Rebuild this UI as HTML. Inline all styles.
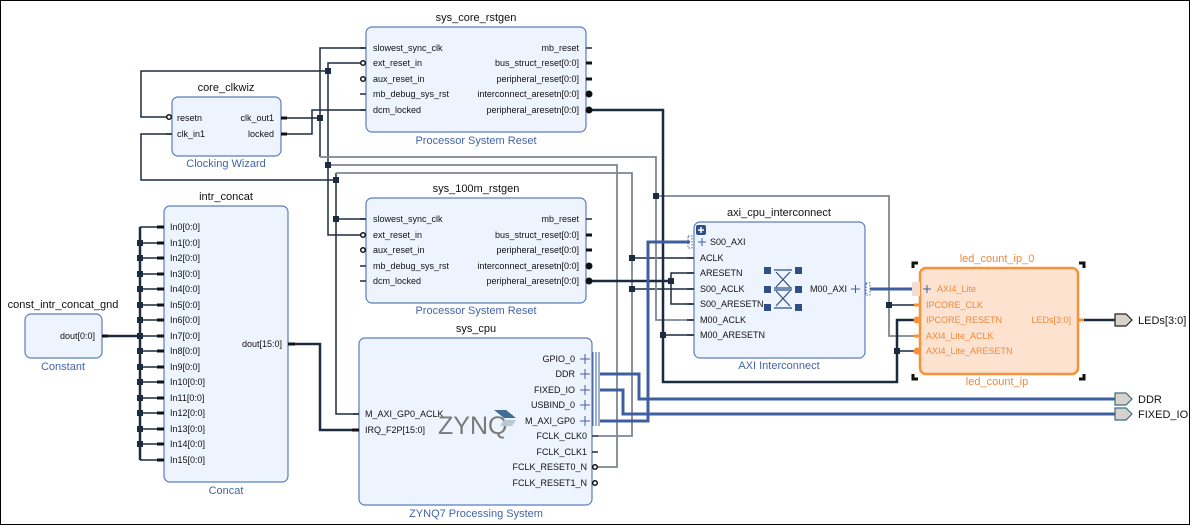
<!DOCTYPE html>
<html><head><meta charset="utf-8"><style>
html,body{margin:0;padding:0;background:#fff}
svg{display:block}
text{font-family:"Liberation Sans",sans-serif}
.p{font-size:9px;fill:#111}
.t{font-size:11px;fill:#111}
.l{font-size:11px;fill:#4464a8}
.o{font-size:9px;fill:#f0883a}
.ot{font-size:11px;fill:#f0883a}
.box{fill:#edf4fd;stroke:#5b7dbb;stroke-width:1.2}
.w{stroke:#1c2b40;stroke-width:1.5;fill:none}
.g{stroke:#7d8695;stroke-width:1.8;fill:none}
.b{stroke:#1c2b40;stroke-width:2.5;fill:none}
.bl{stroke:#3d5f9f;stroke-width:3;fill:none}
.pin{stroke:#1c2b40;stroke-width:1.5}
.pb{stroke:#111;stroke-width:3}
.j{fill:#1c2b40}
.bub{fill:#fff;stroke:#111;stroke-width:1.5}
</style></head><body>
<svg width="1191" height="526" viewBox="0 0 1191 526" xmlns="http://www.w3.org/2000/svg">
<rect x="0.5" y="0.5" width="1189" height="524" fill="#fff" stroke="#000" stroke-width="1"/>

<!-- ===== wires ===== -->
<!-- clkwiz resetn net -->
<polyline class="w" points="168,117 141,117 141,71 328,71"/>
<!-- ext_reset net x328 -->
<polyline class="w" points="366,63 328,63 328,235 366,235"/>
<polyline class="g" points="328,165 617,165 617,467 597,467"/>
<!-- clk_in1 net -->
<polyline class="w" points="172,134 141,134 141,180 336,180"/>
<polyline class="w" points="336,173 336,414 366,414"/>
<line class="w" x1="336" y1="219" x2="366" y2="219"/>
<polyline class="g" points="336,173 632,173 632,436 597,436"/>
<line class="w" x1="632" y1="258" x2="694" y2="258"/>
<line class="w" x1="632" y1="289" x2="694" y2="289"/>
<!-- slowest core / clk_out1 -->
<polyline class="w" points="366,48 320,48 320,157"/>
<line class="w" x1="281" y1="118" x2="320" y2="118"/>
<polyline class="g" points="320,157 656,157 656,320 694,320"/>
<polyline class="g" points="656,196 889,196 889,336 920,336"/>
<line class="w" x1="889" y1="305" x2="920" y2="305"/>
<!-- locked -->
<polyline class="w" points="281,134 312,134 312,110 366,110"/>
<!-- core peripheral_aresetn -->
<polyline class="b" points="590,110 663,110 663,382 897,382 897,320 920,320"/>
<line class="w" x1="663" y1="335" x2="694" y2="335"/>
<line class="w" x1="897" y1="351" x2="920" y2="351"/>
<!-- 100m peripheral_aresetn -->
<line class="b" x1="590" y1="281" x2="671" y2="281"/>
<polyline class="w" points="694,273 671,273 671,304 694,304"/>
<!-- concat -->
<line class="b" x1="104" y1="336" x2="140" y2="336"/>
<line class="b" x1="140" y1="227" x2="140" y2="460"/>
<polyline class="b" points="290,344 320,344 320,430 359,430"/>
<!-- blue buses -->
<polyline class="bl" points="600,421 648,421 648,242 690,242"/>
<polyline class="bl" points="600,374 639,374 639,399 1115,399"/>
<polyline class="bl" points="600,390 623,390 623,414 1115,414"/>
<line class="bl" x1="870" y1="289" x2="912" y2="289"/>
<line class="b" x1="1082" y1="320" x2="1115" y2="320"/>

<!-- junctions -->
<g class="j">
<rect x="325" y="68" width="6" height="6"/><rect x="317" y="115" width="6" height="6"/>
<rect x="333" y="177" width="6" height="6"/><rect x="325" y="162" width="6" height="6"/>
<rect x="333" y="216" width="6" height="6"/><rect x="653" y="193" width="6" height="6"/>
<rect x="629" y="255" width="6" height="6"/><rect x="629" y="286" width="6" height="6"/>
<rect x="660" y="332" width="6" height="6"/><rect x="668" y="278" width="6" height="6"/>
<rect x="886" y="302" width="6" height="6"/><rect x="894" y="348" width="6" height="6"/>
<rect x="137" y="333" width="6" height="6"/>
</g>

<!-- ===== core_clkwiz ===== -->
<text class="t" x="226" y="91" text-anchor="middle">core_clkwiz</text>
<rect class="box" x="172" y="97" width="109" height="59" rx="6"/>
<circle class="bub" cx="169" cy="117" r="2.3"/><line class="pin" x1="166" y1="134" x2="172" y2="134"/>
<line class="pb" x1="281" y1="118" x2="287" y2="118"/><line class="pb" x1="281" y1="134" x2="287" y2="134"/>
<text class="p" x="177" y="121">resetn</text><text class="p" x="177" y="137">clk_in1</text>
<text class="p" x="274" y="121" text-anchor="end">clk_out1</text><text class="p" x="274" y="137" text-anchor="end">locked</text>
<text class="l" x="226" y="167" text-anchor="middle">Clocking Wizard</text>

<!-- ===== sys_core_rstgen ===== -->
<text class="t" x="476" y="21" text-anchor="middle">sys_core_rstgen</text>
<rect class="box" x="366" y="27" width="220" height="105" rx="6"/>
<g>
<line class="pin" x1="360" y1="48" x2="366" y2="48"/><circle class="bub" cx="363" cy="63" r="2.3"/><circle class="bub" cx="363" cy="79" r="2.3"/>
<line class="pin" x1="360" y1="94" x2="366" y2="94"/><line class="pin" x1="360" y1="110" x2="366" y2="110"/>
<line class="pin" x1="586" y1="48" x2="592" y2="48"/><line class="pb" x1="586" y1="63" x2="592" y2="63"/><line class="pb" x1="586" y1="79" x2="592" y2="79"/>
<circle cx="589" cy="94" r="3.5" fill="#111"/><circle cx="589" cy="110" r="3.5" fill="#111"/>
</g>
<text class="p" x="373" y="51">slowest_sync_clk</text><text class="p" x="373" y="66">ext_reset_in</text><text class="p" x="373" y="82">aux_reset_in</text><text class="p" x="373" y="97">mb_debug_sys_rst</text><text class="p" x="373" y="113">dcm_locked</text>
<text class="p" x="579" y="51" text-anchor="end">mb_reset</text><text class="p" x="579" y="66" text-anchor="end">bus_struct_reset[0:0]</text><text class="p" x="579" y="82" text-anchor="end">peripheral_reset[0:0]</text><text class="p" x="579" y="97" text-anchor="end">interconnect_aresetn[0:0]</text><text class="p" x="579" y="113" text-anchor="end">peripheral_aresetn[0:0]</text>
<text class="l" x="476" y="144" text-anchor="middle">Processor System Reset</text>

<!-- ===== sys_100m_rstgen ===== -->
<text class="t" x="476" y="192" text-anchor="middle">sys_100m_rstgen</text>
<rect class="box" x="366" y="198" width="220" height="105" rx="6"/>
<g>
<line class="pin" x1="360" y1="219" x2="366" y2="219"/><circle class="bub" cx="363" cy="235" r="2.3"/><circle class="bub" cx="363" cy="250" r="2.3"/>
<line class="pin" x1="360" y1="266" x2="366" y2="266"/><line class="pin" x1="360" y1="281" x2="366" y2="281"/>
<line class="pin" x1="586" y1="219" x2="592" y2="219"/><line class="pb" x1="586" y1="235" x2="592" y2="235"/><line class="pb" x1="586" y1="250" x2="592" y2="250"/>
<circle cx="589" cy="266" r="3.5" fill="#111"/><circle cx="589" cy="281" r="3.5" fill="#111"/>
</g>
<text class="p" x="373" y="222">slowest_sync_clk</text><text class="p" x="373" y="238">ext_reset_in</text><text class="p" x="373" y="253">aux_reset_in</text><text class="p" x="373" y="269">mb_debug_sys_rst</text><text class="p" x="373" y="284">dcm_locked</text>
<text class="p" x="579" y="222" text-anchor="end">mb_reset</text><text class="p" x="579" y="238" text-anchor="end">bus_struct_reset[0:0]</text><text class="p" x="579" y="253" text-anchor="end">peripheral_reset[0:0]</text><text class="p" x="579" y="269" text-anchor="end">interconnect_aresetn[0:0]</text><text class="p" x="579" y="284" text-anchor="end">peripheral_aresetn[0:0]</text>
<text class="l" x="476" y="314" text-anchor="middle">Processor System Reset</text>

<!-- ===== Constant ===== -->
<text class="t" x="63" y="308" text-anchor="middle">const_intr_concat_gnd</text>
<rect class="box" x="25" y="314" width="77" height="44" rx="6"/>
<line class="pb" x1="102" y1="336" x2="108" y2="336"/>
<text class="p" x="95" y="339" text-anchor="end">dout[0:0]</text>
<text class="l" x="63" y="370" text-anchor="middle">Constant</text>

<!-- ===== Concat ===== -->
<text class="t" x="226" y="200" text-anchor="middle">intr_concat</text>
<rect class="box" x="164" y="206" width="124" height="276" rx="6"/>
<g class="w">
<line x1="140" y1="227" x2="164" y2="227"/><line x1="140" y1="243" x2="164" y2="243"/><line x1="140" y1="258" x2="164" y2="258"/><line x1="140" y1="274" x2="164" y2="274"/>
<line x1="140" y1="289" x2="164" y2="289"/><line x1="140" y1="305" x2="164" y2="305"/><line x1="140" y1="320" x2="164" y2="320"/><line x1="140" y1="336" x2="164" y2="336"/>
<line x1="140" y1="351" x2="164" y2="351"/><line x1="140" y1="367" x2="164" y2="367"/><line x1="140" y1="382" x2="164" y2="382"/><line x1="140" y1="398" x2="164" y2="398"/>
<line x1="140" y1="413" x2="164" y2="413"/><line x1="140" y1="429" x2="164" y2="429"/><line x1="140" y1="444" x2="164" y2="444"/><line x1="140" y1="460" x2="164" y2="460"/>
</g>
<g class="pb">
<line x1="157" y1="227" x2="164" y2="227"/><line x1="157" y1="243" x2="164" y2="243"/><line x1="157" y1="258" x2="164" y2="258"/><line x1="157" y1="274" x2="164" y2="274"/>
<line x1="157" y1="289" x2="164" y2="289"/><line x1="157" y1="305" x2="164" y2="305"/><line x1="157" y1="320" x2="164" y2="320"/><line x1="157" y1="336" x2="164" y2="336"/>
<line x1="157" y1="351" x2="164" y2="351"/><line x1="157" y1="367" x2="164" y2="367"/><line x1="157" y1="382" x2="164" y2="382"/><line x1="157" y1="398" x2="164" y2="398"/>
<line x1="157" y1="413" x2="164" y2="413"/><line x1="157" y1="429" x2="164" y2="429"/><line x1="157" y1="444" x2="164" y2="444"/><line x1="157" y1="460" x2="164" y2="460"/>
</g>
<g class="j">
<rect x="137" y="240" width="6" height="6"/><rect x="137" y="255" width="6" height="6"/><rect x="137" y="271" width="6" height="6"/><rect x="137" y="286" width="6" height="6"/>
<rect x="137" y="302" width="6" height="6"/><rect x="137" y="317" width="6" height="6"/><rect x="137" y="348" width="6" height="6"/><rect x="137" y="364" width="6" height="6"/>
<rect x="137" y="379" width="6" height="6"/><rect x="137" y="395" width="6" height="6"/><rect x="137" y="410" width="6" height="6"/><rect x="137" y="426" width="6" height="6"/><rect x="137" y="441" width="6" height="6"/>
</g>
<g class="p">
<text x="170" y="230">In0[0:0]</text><text x="170" y="246">In1[0:0]</text><text x="170" y="261">In2[0:0]</text><text x="170" y="277">In3[0:0]</text>
<text x="170" y="292">In4[0:0]</text><text x="170" y="308">In5[0:0]</text><text x="170" y="323">In6[0:0]</text><text x="170" y="339">In7[0:0]</text>
<text x="170" y="354">In8[0:0]</text><text x="170" y="370">In9[0:0]</text><text x="170" y="385">In10[0:0]</text><text x="170" y="401">In11[0:0]</text>
<text x="170" y="416">In12[0:0]</text><text x="170" y="432">In13[0:0]</text><text x="170" y="447">In14[0:0]</text><text x="170" y="463">In15[0:0]</text>
</g>
<line class="pb" x1="288" y1="344" x2="295" y2="344"/>
<text class="p" x="282" y="347" text-anchor="end">dout[15:0]</text>
<text class="l" x="226" y="494" text-anchor="middle">Concat</text>

<!-- ===== sys_cpu ===== -->
<text class="t" x="476" y="332" text-anchor="middle">sys_cpu</text>
<rect class="box" x="359" y="338" width="233" height="167" rx="6"/>
<line class="pin" x1="353" y1="414" x2="359" y2="414"/><line class="pb" x1="352" y1="430" x2="359" y2="430"/>
<text class="p" x="365" y="417">M_AXI_GP0_ACLK</text><text class="p" x="365" y="433">IRQ_F2P[15:0]</text>
<text x="438" y="434" style="font-size:25px;fill:#7a7a7a;font-family:'Liberation Sans',sans-serif">ZYNQ</text>
<polygon points="494,410 506,410 516,418 504,418" fill="#3f6d93"/><polygon points="504,420 516,420 512,426 500,426" fill="#b9c7d6"/>
<g stroke="#3d5f9f" stroke-width="1">
<line x1="593" y1="352" x2="593" y2="426"/><line x1="596" y1="352" x2="596" y2="426"/><line x1="599" y1="352" x2="599" y2="426"/>
</g>
<g stroke="#3d5f9f" stroke-width="1"><line x1="580" y1="359" x2="590" y2="359"/><line x1="585" y1="354" x2="585" y2="364"/>
<line x1="580" y1="374" x2="590" y2="374"/><line x1="585" y1="369" x2="585" y2="379"/>
<line x1="580" y1="390" x2="590" y2="390"/><line x1="585" y1="385" x2="585" y2="395"/>
<line x1="580" y1="405" x2="590" y2="405"/><line x1="585" y1="400" x2="585" y2="410"/>
<line x1="580" y1="421" x2="590" y2="421"/><line x1="585" y1="416" x2="585" y2="426"/></g>
<line class="pin" x1="592" y1="436" x2="598" y2="436"/><line class="pin" x1="592" y1="452" x2="598" y2="452"/>
<circle class="bub" cx="595" cy="467" r="2.3"/><circle class="bub" cx="595" cy="483" r="2.3"/>
<g class="p" text-anchor="end">
<text x="575" y="362">GPIO_0</text><text x="575" y="377">DDR</text><text x="575" y="393">FIXED_IO</text><text x="575" y="408">USBIND_0</text><text x="575" y="424">M_AXI_GP0</text>
<text x="587" y="439">FCLK_CLK0</text><text x="587" y="455">FCLK_CLK1</text><text x="587" y="470">FCLK_RESET0_N</text><text x="587" y="486">FCLK_RESET1_N</text>
</g>
<text class="l" x="476" y="517" text-anchor="middle">ZYNQ7 Processing System</text>

<!-- ===== axi_cpu_interconnect ===== -->
<text class="t" x="779" y="216" text-anchor="middle">axi_cpu_interconnect</text>
<rect class="box" x="694" y="222" width="171" height="136" rx="6"/>
<rect x="696" y="225" width="10" height="10" rx="2" fill="#2f4f86"/><line x1="698" y1="230" x2="704" y2="230" stroke="#fff" stroke-width="1.5"/><line x1="701" y1="227" x2="701" y2="233" stroke="#fff" stroke-width="1.5"/>
<g stroke="#3d5f9f" stroke-width="1"><line x1="698" y1="242" x2="706" y2="242"/><line x1="702" y1="238" x2="702" y2="246"/>
<line x1="851" y1="289" x2="860" y2="289"/><line x1="855.5" y1="285" x2="855.5" y2="293"/></g>
<rect x="688" y="236" width="4" height="12" fill="none" stroke="#3d5f9f" stroke-dasharray="1.5,1.5"/>
<rect x="866" y="283" width="4" height="12" fill="none" stroke="#3d5f9f" stroke-dasharray="1.5,1.5"/>
<g class="pin"><line x1="687" y1="258" x2="694" y2="258"/><line x1="687" y1="273" x2="694" y2="273"/><line x1="687" y1="289" x2="694" y2="289"/><line x1="687" y1="304" x2="694" y2="304"/><line x1="687" y1="320" x2="694" y2="320"/><line x1="687" y1="335" x2="694" y2="335"/></g>
<g class="p"><text x="710" y="245">S00_AXI</text><text x="700" y="261">ACLK</text><text x="700" y="276">ARESETN</text><text x="700" y="292">S00_ACLK</text><text x="700" y="307">S00_ARESETN</text><text x="700" y="323">M00_ACLK</text><text x="700" y="338">M00_ARESETN</text>
<text x="847" y="292" text-anchor="end">M00_AXI</text></g>
<g fill="#2f4f86"><rect x="764" y="267" width="7" height="7"/><rect x="795" y="267" width="7" height="7"/><rect x="764" y="286" width="7" height="7"/><rect x="795" y="286" width="7" height="7"/><rect x="764" y="304" width="7" height="7"/><rect x="795" y="304" width="7" height="7"/></g>
<g stroke="#2f4f86" stroke-width="1.2"><line x1="774" y1="270" x2="792" y2="270"/><line x1="774" y1="288" x2="792" y2="288"/><line x1="774" y1="290" x2="792" y2="290"/><line x1="774" y1="308" x2="792" y2="308"/>
<line x1="776" y1="272" x2="790" y2="287"/><line x1="790" y1="272" x2="776" y2="287"/><line x1="776" y1="291" x2="790" y2="306"/><line x1="790" y1="291" x2="776" y2="306"/></g>
<text class="l" x="779" y="369" text-anchor="middle">AXI Interconnect</text>

<!-- ===== led_count_ip ===== -->
<text class="ot" x="997" y="262" text-anchor="middle">led_count_ip_0</text>
<g stroke="#111" stroke-width="3" fill="none"><polyline points="913,268 913,263 918,263"/><polyline points="1079,263 1084,263 1084,268"/><polyline points="913,374 913,379 918,379"/><polyline points="1079,379 1084,379 1084,374"/></g>
<rect x="920" y="268" width="158" height="106" rx="6" fill="#fce2cf" stroke="#f7923a" stroke-width="2.5"/>
<rect x="912" y="282" width="8" height="14" fill="#f3ddd0"/>
<g stroke="#3d5f9f" stroke-width="1"><line x1="923" y1="289" x2="931" y2="289"/><line x1="927" y1="285" x2="927" y2="293"/></g>
<g stroke="#f7923a" stroke-width="3"><line x1="914" y1="305" x2="921" y2="305"/><line x1="914" y1="336" x2="921" y2="336"/><line x1="1078" y1="320" x2="1084" y2="320"/></g>
<circle cx="917" cy="320" r="3.5" fill="#f7923a"/><circle cx="917" cy="351" r="3.5" fill="#f7923a"/>
<g class="o"><text x="937" y="292">AXI4_Lite</text><text x="926" y="308">IPCORE_CLK</text><text x="926" y="323">IPCORE_RESETN</text><text x="926" y="339">AXI4_Lite_ACLK</text><text x="926" y="354">AXI4_Lite_ARESETN</text>
<text x="1071" y="323" text-anchor="end">LEDs[3:0]</text></g>
<text class="ot" x="997" y="385" text-anchor="middle">led_count_ip</text>

<!-- ===== external ports ===== -->
<g fill="#d8d2cc" stroke="#222" stroke-width="1.2">
<polygon points="1115,314 1126,314 1132,320 1126,326 1115,326"/>
</g>
<g fill="#d8d2cc" stroke="#3b6e87" stroke-width="1.2">
<polygon points="1115,393 1126,393 1132,399 1126,405 1115,405"/>
<polygon points="1115,408 1126,408 1132,414 1126,420 1115,420"/>
</g>
<text x="1138" y="324" style="font-size:11px;fill:#111">LEDs[3:0]</text>
<text x="1138" y="403" style="font-size:11px;fill:#111">DDR</text>
<text x="1138" y="418" style="font-size:11px;fill:#111">FIXED_IO</text>
</svg>
</body></html>
